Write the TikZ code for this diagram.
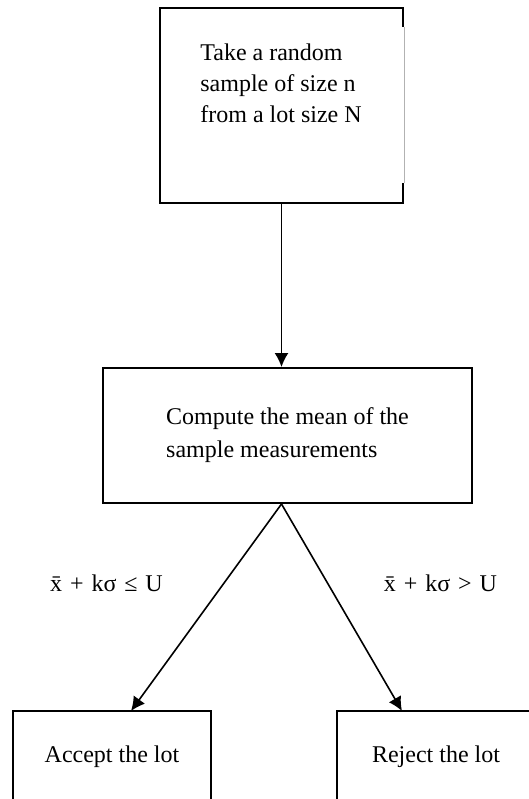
\documentclass[tikz,border=0pt]{standalone}
\usepackage{fontspec}
\setmainfont{Liberation Serif}
\usetikzlibrary{arrows.meta}
\newcommand{\gap}{\hspace{0.33em}}
\begin{document}
\begin{tikzpicture}[x=0.5pt,y=-0.5pt,
    box/.style={draw, line width=1pt, rectangle, inner sep=0pt},
    txt/.style={align=left, font=\fontsize{12}{15.5}\selectfont},
    lbl/.style={font=\fontsize{12}{14}\selectfont},
    arr/.style={-{Latex[length=7pt,width=7pt]}, line width=0.8pt}]
  \useasboundingbox (0,0) rectangle (529,799);
  \clip (0,0) rectangle (529,799);
  % boxes
  \node[box, minimum width=121.5pt, minimum height=97.5pt] (take) at (281.5,105.5) {};
  \node[txt] (taketxt) at (281,83) {Take a random\\sample of size n\\from a lot size N};
  % rechter Rand oben offen
  \draw[white, line width=1.4pt] (403,27) -- (403,183);
  \draw[gray!60, line width=0.4pt] (404,27) -- (404,183);
  \node[box, txt, font=\fontsize{12}{16.5}\selectfont,
        minimum width=184.5pt, minimum height=67.5pt] (mean) at (287.5,435.5)
        {Compute the mean of the\\sample measurements};
  \node[box, lbl, minimum width=99pt, minimum height=46pt] (acc) at (112,757) {Accept the lot};
  \node[box, lbl, minimum width=99pt, minimum height=46pt] (rej) at (436,757) {Reject the lot};
  % pfeile
  \draw[arr] (take.south) -- (take.south |- mean.north);
  \coordinate (fork) at (take.south |- mean.south);
  \coordinate (accin) at (131,711);
  \coordinate (rejin) at (402,711);
  \draw[arr] (fork) -- (accin);
  \draw[arr] (fork) -- (rejin);
  % bedingungen
  \node[lbl] (le) at (106.5,583) {\={x}\gap+\gap kσ\gap≤\gap U};
  \node[lbl] (gt) at (440.5,583) {\={x}\gap+\gap kσ\gap>\gap U};
\end{tikzpicture}
\end{document}
